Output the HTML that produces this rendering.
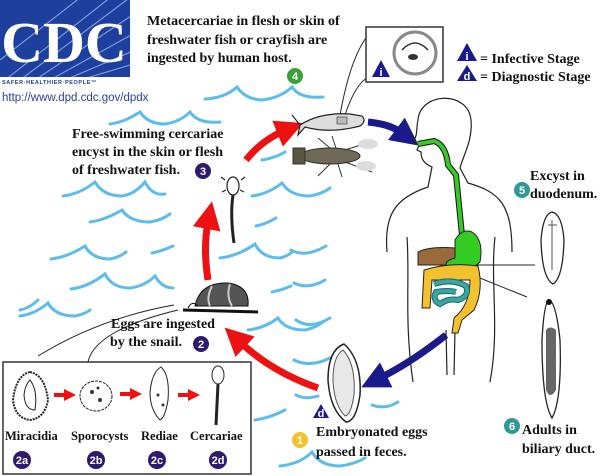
<!DOCTYPE html>
<html><head><meta charset="utf-8"><style>
html,body{margin:0;padding:0;background:#fff;}
svg{display:block}
.t{font-family:"Liberation Serif",serif;font-weight:bold;font-size:14px;fill:#111}
.s{font-family:"Liberation Serif",serif;font-weight:bold;font-size:12.5px;fill:#111}
.n{font-family:"Liberation Sans",sans-serif;font-weight:bold;font-size:11px;fill:#fff;text-anchor:middle}
.w{fill:none;stroke:#5cbcee;stroke-width:3;stroke-linecap:round}
</style></head><body>
<svg width="616" height="476" viewBox="0 0 616 476" xmlns="http://www.w3.org/2000/svg">
<defs>
<marker id="rh" markerWidth="4" markerHeight="4" refX="1" refY="2" orient="auto" markerUnits="strokeWidth"><path d="M0,0 L4,2 L0,4 z" fill="#ee1111"/></marker>
<marker id="bh" markerWidth="4" markerHeight="4" refX="1" refY="2" orient="auto" markerUnits="strokeWidth"><path d="M0,0 L4,2 L0,4 z" fill="#1a1a8c"/></marker>
<marker id="sh" markerWidth="3" markerHeight="3" refX="0.5" refY="1.5" orient="auto" markerUnits="strokeWidth"><path d="M0,0 L3,1.5 L0,3 z" fill="#ee1111"/></marker>
<clipPath id="lc"><rect x="0" y="0" width="130" height="77"/></clipPath>
</defs>

<!-- CDC logo -->
<rect x="0" y="0" width="130" height="77" fill="#1d3f9e"/>
<g clip-path="url(#lc)" stroke="#7f9ad8" stroke-width="1.2">
<line x1="20" y1="80" x2="140" y2="-10"/><line x1="35" y1="80" x2="140" y2="10"/><line x1="50" y1="80" x2="140" y2="30"/>
<line x1="65" y1="80" x2="140" y2="48"/><line x1="80" y1="80" x2="140" y2="62"/><line x1="5" y1="80" x2="120" y2="-10"/>
<line x1="0" y1="60" x2="90" y2="-10"/>
</g>
<text x="64" y="62" text-anchor="middle" font-family="Liberation Serif,serif" font-weight="bold" font-size="58" fill="#fff">CDC</text>
<text x="2" y="84" font-family="Liberation Sans,sans-serif" font-weight="bold" font-size="5.5" fill="#1d3f9e" letter-spacing="0.6">SAFER·HEALTHIER·PEOPLE™</text>
<text x="2" y="101" font-family="Liberation Sans,sans-serif" font-size="11.5" fill="#2a3f9e">http://www.dpd.cdc.gov/dpdx</text>

<!-- waves -->
<g class="w">
<path d="M205 99 Q225 98 237 87 Q245 99 262 100 Q280 98 292 87 Q300 99 323 97"/>
<path d="M110 124 Q125 122 140 112 Q148 124 165 124 Q180 122 190 112 Q198 124 220 122"/>
<path d="M63 196 Q80 194 95 182 Q103 196 122 196 Q135 194 145 182 Q152 196 165 194"/>
<path d="M90 222 Q105 220 122 210 Q130 222 150 222 Q162 220 170 214"/>
<path d="M252 196 Q268 194 282 183 Q290 196 310 196 Q322 194 330 188"/>
<path d="M256 226 Q266 224 276 218"/>
<path d="M51 259 Q68 257 85 246 Q92 259 110 259 Q120 257 126 252"/>
<path d="M152 253 Q162 251 173 246"/>
<path d="M220 258 Q238 256 255 244 Q262 258 280 258 Q288 256 292 252"/>
<path d="M71 289 Q88 287 105 274 Q112 288 130 288 Q145 286 155 276 Q162 288 173 288"/>
<path d="M20 316 Q35 314 48 303 Q55 316 75 316 Q85 314 90 310"/>
<path d="M272 292 Q282 290 291 286"/>
<path d="M248 330 Q265 328 278 318 Q285 330 305 330 Q315 328 323 322"/>
<path d="M262 160 Q275 158 285 152"/>
<path d="M20 310 Q30 308 38 300"/>
<path d="M291 250 Q305 258 326 246"/>
<path d="M294 283 Q308 290 325 280"/>
<path d="M296 320 Q310 330 330 318"/>
<path d="M294 360 Q310 368 330 358"/>
<path d="M296 395 Q305 400 318 396"/>
<path d="M372 405 Q385 410 398 402"/>
<path d="M280 466 Q300 464 312 452 Q320 466 340 466 Q355 464 365 458"/>
<path d="M255 420 Q270 418 285 410"/>
</g>

<!-- thin lines -->
<g fill="none" stroke="#222" stroke-width="1">
<path d="M38 356 Q100 318 174 305"/>
<path d="M88 362 Q95 330 178 310"/>
<path d="M340 115 Q350 60 366 38"/>
<path d="M345 115 Q355 85 367 78"/>
<path d="M470 265 L535 265"/>
<path d="M465 272 L527 297"/>
</g>

<!-- metacercaria box -->
<rect x="366" y="27" width="77" height="55" fill="#fff" stroke="#333" stroke-width="1.5"/>
<circle cx="415" cy="53" r="21" fill="#fff" stroke="#888" stroke-width="3"/>
<path d="M402 50 Q415 36 428 50" fill="none" stroke="#333" stroke-width="1.5"/>
<ellipse cx="413" cy="57" rx="5" ry="3" fill="#333"/>
<path d="M372 77 L381 60 L390 77 z" fill="#1a1a8c"/><text x="381" y="76" class="n" font-size="10">i</text>

<!-- legend -->
<path d="M457 61 L467 43 L477 61 z" fill="#1a1a8c"/><text x="467" y="60" class="n" font-size="10">i</text>
<text x="480" y="63" class="t">= Infective Stage</text>
<path d="M457 81 L467 65 L477 81 z" fill="#1a1a8c"/><text x="467" y="80" class="n" font-size="9">d</text>
<text x="480" y="81" class="t">= Diagnostic Stage</text>

<!-- text blocks -->
<text class="t"><tspan x="147" y="25">Metacercariae in flesh or skin of</tspan><tspan x="147" y="44">freshwater fish or crayfish are</tspan><tspan x="147" y="62">ingested by human host.</tspan></text>
<circle cx="295" cy="76" r="8" fill="#3aa23a"/><text x="295" y="80" class="n">4</text>

<text class="t"><tspan x="72" y="138">Free-swimming cercariae</tspan><tspan x="72" y="156">encyst in the skin or flesh</tspan><tspan x="72" y="174">of freshwater fish.</tspan></text>
<circle cx="203" cy="171" r="8" fill="#2f1870"/><text x="203" y="175" class="n">3</text>

<text class="t"><tspan x="111" y="328">Eggs are ingested</tspan><tspan x="110" y="346">by the snail.</tspan></text>
<circle cx="201" cy="344" r="8" fill="#2f1870"/><text x="201" y="348" class="n">2</text>

<text class="t"><tspan x="316" y="436">Embryonated eggs</tspan><tspan x="316" y="456">passed in feces.</tspan></text>
<circle cx="300" cy="440" r="8" fill="#f5c02a"/><text x="300" y="444" class="n">1</text>

<text class="t"><tspan x="530" y="180">Excyst in</tspan><tspan x="530" y="198">duodenum.</tspan></text>
<circle cx="522" cy="190" r="8" fill="#2e9a98"/><text x="522" y="194" class="n">5</text>

<text class="t"><tspan x="522" y="434">Adults in</tspan><tspan x="522" y="453">biliary duct.</tspan></text>
<circle cx="512" cy="426" r="8" fill="#2e9a98"/><text x="512" y="430" class="n">6</text>

<!-- arrows -->
<g fill="none" stroke-width="7">
<path d="M318 388 Q272 372 240 342" stroke="#ee1111" marker-end="url(#rh)"/>
<path d="M208 280 Q203 248 208 222" stroke="#ee1111" marker-end="url(#rh)"/>
<path d="M246 160 Q262 140 284 131" stroke="#ee1111" marker-end="url(#rh)"/>
<path d="M368 122 Q390 124 402 133" stroke="#1a1a8c" marker-end="url(#bh)"/>
<path d="M446 335 Q412 362 380 378" stroke="#1a1a8c" marker-end="url(#bh)"/>
</g>

<!-- fish -->
<path d="M300 125 Q320 112 350 114 L362 116 Q367 121 360 126 Q330 134 305 127 L298 135 L300 125 L292 115 z" fill="#ddd" stroke="#222" stroke-width="1.2"/>
<rect x="337" y="117" width="10" height="7" fill="#bbb" stroke="#555" stroke-width="0.8"/>
<!-- crayfish -->
<g stroke="#333" stroke-width="1">
<ellipse cx="330" cy="156" rx="30" ry="8" fill="#6e6a55"/>
<rect x="293" y="148" width="12" height="16" fill="#5a5540"/>
<line x1="330" y1="148" x2="318" y2="138"/><line x1="336" y1="148" x2="332" y2="136"/>
<line x1="330" y1="164" x2="318" y2="176"/><line x1="338" y1="164" x2="342" y2="177"/>
<line x1="345" y1="150" x2="370" y2="142"/><line x1="345" y1="162" x2="372" y2="172"/>
</g>
<ellipse cx="368" cy="144" rx="10" ry="5" fill="#ddd"/><ellipse cx="366" cy="166" rx="10" ry="5" fill="#ddd"/>

<!-- cercaria free -->
<g stroke="#222" fill="none" stroke-width="1.2">
<ellipse cx="233" cy="186" rx="6" ry="9" fill="#fff"/>
<path d="M233 195 Q230 215 234 243" stroke-width="3"/>
<path d="M225 180 l-4 -3 M241 180 l4 -3 M226 190 l-4 2 M240 190 l4 2"/>
</g>

<!-- snail -->
<path d="M195 306 Q200 282 228 283 Q250 286 248 306 z" fill="#555" stroke="#111"/>
<path d="M212 286 Q206 298 210 306 M230 284 Q226 296 232 306" stroke="#ccc" stroke-width="2" fill="none"/>
<path d="M183 310 L258 312" stroke="#111" stroke-width="3"/>
<path d="M188 308 Q192 300 198 306" stroke="#111" fill="none"/>

<!-- egg -->
<path d="M344 344 Q362 360 360 395 Q356 422 346 422 Q330 410 328 380 Q328 350 344 344 z" fill="#fff" stroke="#222" stroke-width="1.5"/>
<path d="M343 350 Q356 364 354 395 Q351 415 345 416 Q334 405 333 380 Q333 356 343 350 z" fill="#e8e8e8" stroke="#555" stroke-width="1"/>
<path d="M313 418 L321 404 L329 418 z" fill="#1a1a8c"/><text x="321" y="417" class="n" font-size="8">d</text>

<!-- human -->
<g fill="none" stroke="#222" stroke-width="1.2">
<path d="M387 252 C384 215 395 198 428 187 L432 167 C425 164 421 160 421 152 L417 150 L419 145 L413 141 C418 136 416 128 418 120 C420 92 468 90 471 120 C473 140 463 156 460 168 L468 183 C500 192 512 205 512 252"/>
<path d="M407 237 C410 280 404 320 413 382"/>
<path d="M495 237 C490 280 500 330 490 382"/>
<path d="M446 330 L447 375 M455 330 L454 375"/>
</g>
<!-- digestive -->
<path d="M418 144 L434 141 Q446 145 448 165 L456 175 L462 235" fill="none" stroke="#111" stroke-width="6"/>
<path d="M418 144 L434 141 Q446 145 448 165 L456 175 L462 235" fill="none" stroke="#33cc22" stroke-width="4"/>
<path d="M418 252 Q430 246 455 248 L455 265 L418 265 z" fill="#9a6a3a" stroke="#222"/>
<path d="M455 240 Q462 228 472 232 Q484 240 480 262 Q470 272 450 270 Q440 262 455 258 z" fill="#33cc22" stroke="#222"/>
<path d="M424 270 Q450 262 478 266 Q484 290 474 310 L462 320 L458 333 L452 333 L454 318 Q470 305 470 280 L432 280 L430 308 L422 308 z" fill="#f3c12f" stroke="#222"/>
<path d="M434 284 Q452 278 466 286 Q470 296 458 300 Q448 298 440 304 Q432 300 436 292 Q448 290 456 292" fill="none" stroke="#1b6a6a" stroke-width="6"/>
<path d="M434 284 Q452 278 466 286 Q470 296 458 300 Q448 298 440 304 Q432 300 436 292 Q448 290 456 292" fill="none" stroke="#3aa5a3" stroke-width="4"/>

<!-- excysted worm -->
<path d="M552 212 Q562 214 564 240 Q563 278 553 284 Q542 278 541 240 Q543 214 552 212 z" fill="#fff" stroke="#222" stroke-width="1.3"/>
<path d="M548 225 L557 225 M552 220 L552 270" stroke="#555" fill="none"/>
<!-- adult worm -->
<path d="M549 300 Q556 302 560 340 Q562 400 552 418 Q542 402 542 340 Q544 302 549 300 z" fill="#fff" stroke="#222" stroke-width="1.3"/>
<path d="M546 330 Q550 325 556 330 L556 390 Q550 400 546 390 z" fill="#666"/>
<circle cx="549" cy="302" r="3" fill="#111"/>

<!-- stages box -->
<rect x="3" y="362" width="248" height="112" fill="#fff" stroke="#333" stroke-width="1.5"/>
<path d="M30 372 Q45 375 48 400 Q45 418 30 420 Q15 418 13 400 Q16 375 30 372 z" fill="#fff" stroke="#222" stroke-width="2" stroke-dasharray="2 1"/>
<path d="M30 380 Q38 390 35 410 Q25 410 24 395 Q25 385 30 380 z" fill="none" stroke="#222"/>
<ellipse cx="96" cy="396" rx="16" ry="15" fill="#fff" stroke="#222" stroke-dasharray="3 1"/>
<circle cx="92" cy="392" r="2" fill="#333"/><circle cx="100" cy="400" r="2" fill="#333"/><circle cx="98" cy="388" r="1.5" fill="#333"/>
<path d="M161 367 Q170 375 168 400 Q165 418 160 420 Q150 410 150 392 Q152 372 161 367 z" fill="#fff" stroke="#222"/>
<circle cx="158" cy="395" r="1.5" fill="#333"/><circle cx="163" cy="405" r="1.5" fill="#333"/>
<ellipse cx="218" cy="375" rx="6" ry="9" fill="#fff" stroke="#222"/>
<path d="M218 384 L216 425" stroke="#222" stroke-width="3"/>
<g fill="none" stroke-width="4">
<path d="M54 395 L66 395" stroke="#ee1111" marker-end="url(#sh)"/>
<path d="M120 394 L132 394" stroke="#ee1111" marker-end="url(#sh)"/>
<path d="M178 395 L190 395" stroke="#ee1111" marker-end="url(#sh)"/>
</g>
<text class="s" x="5" y="440">Miracidia</text>
<text class="s" x="71" y="440">Sporocysts</text>
<text class="s" x="141" y="440">Rediae</text>
<text class="s" x="190" y="440">Cercariae</text>
<g>
<circle cx="22" cy="460" r="9" fill="#2f1870"/><text x="22" y="464" class="n">2a</text>
<circle cx="96" cy="460" r="9" fill="#2f1870"/><text x="96" y="464" class="n">2b</text>
<circle cx="157" cy="460" r="9" fill="#2f1870"/><text x="157" y="464" class="n">2c</text>
<circle cx="218" cy="460" r="9" fill="#2f1870"/><text x="218" y="464" class="n">2d</text>
</g>
</svg>
</body></html>
